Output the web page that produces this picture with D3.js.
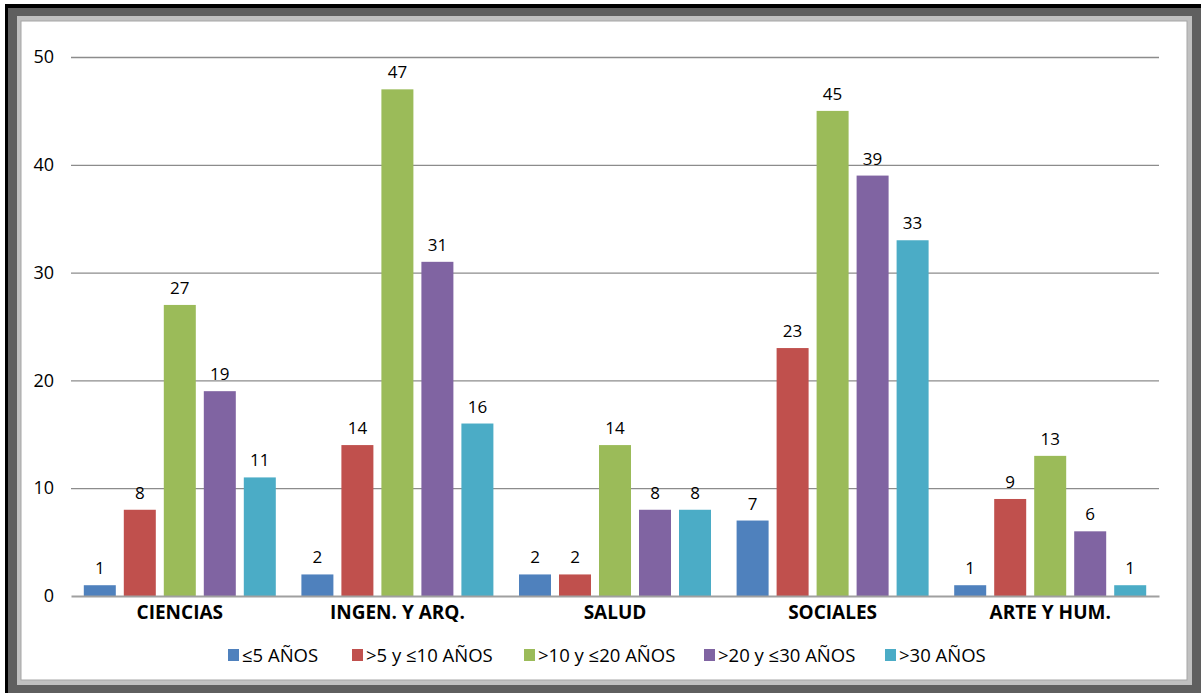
<!DOCTYPE html>
<html><head><meta charset="utf-8">
<script src="https://cdn.jsdelivr.net/npm/d3@7"></script>
<style>body{margin:0;background:#fff}svg{display:block}</style>
</head><body>
<svg id="c" width="1201" height="693"></svg>
<script>
const categories = ["CIENCIAS", "INGEN. Y ARQ.", "SALUD", "SOCIALES", "ARTE Y HUM."];
const seriesNames = ["≤5 AÑOS", ">5 y ≤10 AÑOS", ">10 y ≤20 AÑOS", ">20 y ≤30 AÑOS", ">30 AÑOS"];
const s1 = [1, 2, 2, 7, 1];
const s2 = [8, 14, 2, 23, 9];
const s3 = [27, 47, 14, 45, 13];
const s4 = [19, 31, 8, 39, 6];
const s5 = [11, 16, 8, 33, 1];
const yTicks = [0, 10, 20, 30, 40, 50];
const colors = ["#4F81BD", "#C0504D", "#9BBB59", "#8064A2", "#4BACC6"];

const series = [s1, s2, s3, s4, s5];
const svg = d3.select("#c");
const font = "'Open Sans', sans-serif";

// frame
svg.append("rect").attr("x",5).attr("y",4).attr("width",1196).attr("height",689).attr("fill","#000");
svg.append("rect").attr("x",8).attr("y",8).attr("width",1193).attr("height",685).attr("fill","#5f5f5f");
svg.append("rect").attr("x",17).attr("y",16).attr("width",1175).attr("height",669).attr("fill","#c0c0c0");
svg.append("rect").attr("x",21).attr("y",21).attr("width",1166).attr("height",659).attr("fill","#fff").attr("stroke","#a6a6a6").attr("stroke-width",1);

const x0 = d3.scaleBand().domain(categories).range([71, 1159]).paddingInner(0).paddingOuter(0);
const y = d3.scaleLinear().domain([0, 50]).range([596, 57]);
const band = x0.bandwidth();
const barW = band / (5 + 4*0.25 + 0.8);
const step = barW * 1.25;
const offset = barW * 0.4;

// gridlines
const yAxis = d3.axisLeft(y).tickValues(yTicks).tickSize(-(1159-71)).tickPadding(17);
const gy = svg.append("g").attr("transform","translate(71,0)").call(yAxis);
gy.select(".domain").remove();
gy.selectAll(".tick line").attr("stroke","#8c8c8c").attr("stroke-width",1.3);
gy.selectAll(".tick text").attr("font-family",font).attr("font-size",18).attr("fill","#000");
gy.selectAll(".tick").filter(d=>d===0).select("line").remove();

// bars
series.forEach((vals, si) => {
  const g = svg.append("g");
  g.selectAll("rect").data(vals).join("rect")
    .attr("x", (d,i) => x0(categories[i]) + offset + si*step)
    .attr("y", d => y(d))
    .attr("width", barW)
    .attr("height", d => y(0) - y(d))
    .attr("fill", colors[si]);
  g.selectAll("text").data(vals).join("text")
    .attr("x", (d,i) => x0(categories[i]) + offset + si*step + barW/2)
    .attr("y", d => y(d) - 11)
    .attr("text-anchor","middle")
    .attr("font-family",font).attr("font-size",17).attr("fill","#000")
    .text(d => d);
});

// x axis
const xAxis = d3.axisBottom(x0).tickSize(0).tickPadding(10);
const gx = svg.append("g").attr("transform","translate(0,596)").call(xAxis);
gx.select(".domain").attr("stroke","#a0a0a0").attr("stroke-width",2);
gx.selectAll(".tick text").attr("font-family",font).attr("font-size",19).attr("font-weight","bold").attr("fill","#000").attr("dy","0.71em");

// legend
const legX = [228, 352, 524, 704, 885];
const lg = svg.append("g");
seriesNames.forEach((n, i) => {
  lg.append("rect").attr("x", legX[i]).attr("y", 649).attr("width", 11).attr("height", 12).attr("fill", colors[i]);
  lg.append("text").attr("x", legX[i] + 14).attr("y", 662).attr("font-family",font).attr("font-size",18.5).attr("fill","#000").text(n);
});
</script>
</body></html>
